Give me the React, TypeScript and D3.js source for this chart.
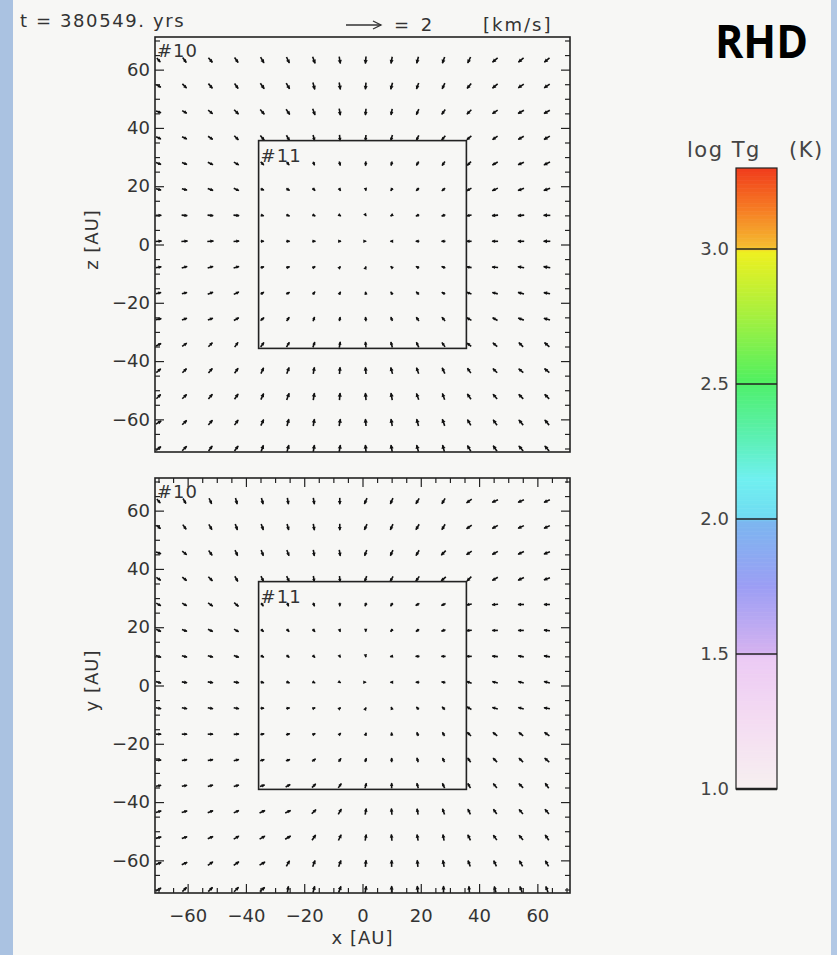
import { useEffect, useRef } from 'react';
import * as d3 from 'd3';

const W = 837;
const H = 955;
const FONT = 'DejaVu Sans';

// grid positions of the velocity vectors [AU] (same for both axes)
const gridCoords = [-70.0, -61.1, -52.2, -43.3, -34.4, -25.6, -16.7, -7.8, 1.1, 10.0, 18.9, 27.8, 36.6, 45.5, 54.4, 63.3];
const majorTicks = [-60, -40, -20, 0, 20, 40, 60];
const minorTicks = [-70, -65, -55, -50, -45, -35, -30, -25, -15, -10, -5, 5, 10, 15, 25, 30, 35, 45, 50, 55, 65, 70];
const axisExtent = 71.2;
const innerBox = 35.65;
const refSpeed = 2; // km/s

// x-z plane: arrow direction in degrees (ccw from +x), rows from top (z=63) to bottom (z=-70)
const xzAngle = [
  [-50, -55, -50, -55, -60, -65, -70, -80, -95, -100, -105, -110, -115, -140, -140, -140],
  [-30, -45, -50, -55, -55, -60, -75, -80, -95, -105, -110, -115, -130, -140, -145, -145],
  [-20, -30, -40, -45, -50, -55, -70, -80, -95, -100, -115, -125, -135, -145, -150, -150],
  [-25, -25, -35, -45, -50, -60, -75, -85, -95, -105, -115, -130, -140, -145, -150, -150],
  [-20, -20, -25, -30, -45, -50, -70, -75, -95, -105, -120, -125, -135, -150, -155, -155],
  [-15, -15, -20, -25, -20, -30, -45, -60, -80, -120, -135, -140, -150, -155, -160, -160],
  [0, -5, -5, -5, -15, -20, -25, -30, -60, -150, -160, -160, -170, -175, -175, 180],
  [5, 5, 5, 5, 0, 0, 0, 0, 0, 180, 180, 180, 180, 180, 180, 180],
  [10, 15, 15, 15, 20, 20, 30, 50, 70, 140, 150, 160, 170, 175, 170, 170],
  [15, 15, 20, 25, 35, 30, 50, 60, 100, 120, 135, 150, 160, 165, 165, 170],
  [10, 20, 20, 30, 40, 55, 70, 80, 95, 110, 125, 130, 150, 150, 160, 165],
  [25, 35, 45, 55, 55, 60, 70, 80, 95, 105, 115, 125, 140, 140, 135, 140],
  [40, 45, 50, 55, 65, 70, 80, 85, 95, 105, 110, 115, 125, 135, 140, 140],
  [45, 45, 50, 55, 65, 70, 80, 85, 95, 100, 110, 110, 125, 130, 135, 135],
  [30, 45, 50, 55, 65, 75, 80, 80, 95, 100, 105, 110, 120, 125, 130, 130],
  [40, 45, 55, 55, 70, 75, 80, 80, 95, 100, 105, 105, 120, 125, 130, 130],
];
// x-z plane: speed [km/s]
const xzSpeed = [
  [0.30, 0.35, 0.35, 0.35, 0.38, 0.38, 0.40, 0.40, 0.40, 0.38, 0.38, 0.38, 0.38, 0.38, 0.38, 0.38],
  [0.30, 0.33, 0.35, 0.35, 0.38, 0.38, 0.40, 0.40, 0.38, 0.38, 0.36, 0.36, 0.36, 0.38, 0.38, 0.38],
  [0.30, 0.30, 0.33, 0.35, 0.36, 0.36, 0.38, 0.38, 0.36, 0.35, 0.34, 0.34, 0.35, 0.36, 0.38, 0.38],
  [0.30, 0.30, 0.32, 0.33, 0.34, 0.34, 0.34, 0.34, 0.33, 0.33, 0.32, 0.32, 0.33, 0.35, 0.36, 0.38],
  [0.30, 0.30, 0.32, 0.32, 0.25, 0.22, 0.22, 0.24, 0.24, 0.24, 0.26, 0.28, 0.30, 0.35, 0.36, 0.38],
  [0.30, 0.30, 0.32, 0.32, 0.20, 0.22, 0.20, 0.18, 0.14, 0.18, 0.22, 0.24, 0.30, 0.35, 0.36, 0.38],
  [0.32, 0.32, 0.32, 0.32, 0.18, 0.20, 0.18, 0.14, 0.08, 0.14, 0.20, 0.22, 0.28, 0.34, 0.36, 0.38],
  [0.35, 0.35, 0.35, 0.32, 0.18, 0.20, 0.18, 0.14, 0.05, 0.14, 0.20, 0.22, 0.28, 0.34, 0.36, 0.38],
  [0.32, 0.32, 0.32, 0.32, 0.20, 0.20, 0.18, 0.12, 0.08, 0.14, 0.20, 0.22, 0.28, 0.34, 0.36, 0.38],
  [0.30, 0.30, 0.32, 0.32, 0.22, 0.22, 0.20, 0.18, 0.16, 0.18, 0.22, 0.22, 0.28, 0.32, 0.35, 0.36],
  [0.32, 0.30, 0.30, 0.32, 0.26, 0.26, 0.25, 0.24, 0.24, 0.24, 0.26, 0.28, 0.30, 0.32, 0.34, 0.36],
  [0.32, 0.32, 0.32, 0.33, 0.32, 0.32, 0.32, 0.33, 0.32, 0.32, 0.32, 0.30, 0.30, 0.32, 0.34, 0.36],
  [0.33, 0.33, 0.34, 0.35, 0.36, 0.38, 0.38, 0.38, 0.38, 0.38, 0.36, 0.36, 0.34, 0.34, 0.34, 0.36],
  [0.34, 0.35, 0.35, 0.36, 0.38, 0.40, 0.40, 0.40, 0.40, 0.40, 0.38, 0.38, 0.36, 0.36, 0.36, 0.36],
  [0.35, 0.36, 0.36, 0.36, 0.38, 0.40, 0.40, 0.40, 0.40, 0.40, 0.40, 0.40, 0.38, 0.38, 0.38, 0.38],
  [0.35, 0.36, 0.36, 0.36, 0.38, 0.40, 0.40, 0.40, 0.40, 0.40, 0.40, 0.40, 0.38, 0.38, 0.38, 0.38],
];

// x-y plane: direction in degrees, rows from top (y=63) to bottom (y=-70)
const xyAngle = [
  [-50, -60, -65, -75, -75, -80, -80, -90, -115, -115, -120, -120, -145, -155, -155, -155],
  [-40, -55, -60, -70, -70, -75, -80, -90, -115, -115, -120, -120, -145, -150, -155, -155],
  [-20, -40, -55, -65, -70, -70, -80, -80, -110, -115, -120, -135, -145, -150, -155, -160],
  [-35, -40, -45, -60, -65, -65, -80, -85, -110, -120, -125, -140, -135, -150, -155, -160],
  [-30, -30, -35, -40, -60, -70, -70, -90, -110, -120, -150, -155, -170, -175, 180, 180],
  [-25, -20, -25, -30, -40, -45, -50, -70, -90, -130, -145, -160, -175, 180, 180, 175],
  [-20, -15, -15, -20, -30, -40, -45, -60, -80, -170, 180, 180, 180, 175, 170, 170],
  [-15, -10, -10, -10, -15, -20, -25, -30, 0, 180, 180, 170, 160, 165, 165, 165],
  [-10, -10, -10, -10, 0, 10, 20, 40, 60, 110, 130, 135, 150, 165, 165, 170],
  [0, 0, 0, 5, 10, 15, 25, 45, 70, 95, 110, 120, 135, 140, 140, 145],
  [0, 10, 10, 15, 15, 15, 35, 55, 70, 90, 105, 115, 125, 135, 135, 140],
  [10, 10, 15, 15, 20, 30, 45, 55, 75, 90, 105, 115, 120, 130, 135, 125],
  [15, 15, 20, 25, 25, 25, 45, 60, 80, 95, 100, 110, 115, 125, 130, 130],
  [15, 20, 25, 30, 30, 30, 55, 65, 80, 95, 100, 100, 115, 125, 130, 125],
  [20, 25, 35, 35, 30, 60, 70, 70, 85, 90, 95, 100, 110, 115, 120, 120],
  [30, 45, 45, 45, 40, 80, 75, 70, 80, 90, 95, 90, 95, 105, 110, 110],
];
const xySpeed = [
  [0.30, 0.33, 0.35, 0.36, 0.36, 0.36, 0.36, 0.36, 0.36, 0.36, 0.36, 0.36, 0.36, 0.36, 0.36, 0.36],
  [0.30, 0.33, 0.35, 0.36, 0.36, 0.36, 0.36, 0.36, 0.36, 0.36, 0.36, 0.36, 0.36, 0.36, 0.36, 0.36],
  [0.30, 0.33, 0.34, 0.35, 0.35, 0.35, 0.35, 0.35, 0.35, 0.35, 0.35, 0.36, 0.36, 0.36, 0.36, 0.36],
  [0.30, 0.32, 0.33, 0.34, 0.34, 0.34, 0.33, 0.33, 0.33, 0.33, 0.34, 0.35, 0.35, 0.36, 0.36, 0.36],
  [0.30, 0.30, 0.32, 0.32, 0.22, 0.22, 0.22, 0.20, 0.20, 0.22, 0.24, 0.26, 0.30, 0.34, 0.34, 0.34],
  [0.30, 0.30, 0.30, 0.30, 0.20, 0.20, 0.20, 0.16, 0.14, 0.18, 0.22, 0.24, 0.30, 0.32, 0.32, 0.34],
  [0.30, 0.30, 0.30, 0.30, 0.20, 0.20, 0.18, 0.14, 0.08, 0.16, 0.22, 0.24, 0.30, 0.32, 0.32, 0.34],
  [0.30, 0.30, 0.30, 0.30, 0.20, 0.20, 0.16, 0.12, 0.04, 0.14, 0.20, 0.22, 0.30, 0.32, 0.32, 0.34],
  [0.30, 0.30, 0.30, 0.30, 0.20, 0.20, 0.16, 0.12, 0.08, 0.14, 0.20, 0.22, 0.30, 0.32, 0.32, 0.34],
  [0.30, 0.30, 0.30, 0.30, 0.22, 0.22, 0.18, 0.16, 0.16, 0.18, 0.22, 0.24, 0.30, 0.32, 0.32, 0.34],
  [0.30, 0.30, 0.30, 0.30, 0.24, 0.24, 0.24, 0.24, 0.22, 0.24, 0.26, 0.26, 0.30, 0.32, 0.33, 0.34],
  [0.30, 0.30, 0.30, 0.30, 0.28, 0.30, 0.30, 0.30, 0.30, 0.30, 0.30, 0.30, 0.30, 0.32, 0.34, 0.35],
  [0.32, 0.32, 0.32, 0.32, 0.34, 0.34, 0.34, 0.35, 0.35, 0.35, 0.34, 0.34, 0.33, 0.33, 0.34, 0.35],
  [0.32, 0.32, 0.33, 0.34, 0.35, 0.36, 0.36, 0.36, 0.36, 0.36, 0.36, 0.36, 0.35, 0.35, 0.35, 0.36],
  [0.33, 0.34, 0.35, 0.36, 0.36, 0.36, 0.38, 0.38, 0.38, 0.38, 0.38, 0.38, 0.36, 0.36, 0.36, 0.36],
  [0.33, 0.34, 0.35, 0.36, 0.36, 0.36, 0.38, 0.38, 0.38, 0.38, 0.38, 0.38, 0.36, 0.36, 0.36, 0.36],
];

// colour bar: log Tg (K)
const cbarTicks = [1.0, 1.5, 2.0, 2.5, 3.0];
const cbarRange = [1.0, 3.3];
const cbarStops = [1.0, 1.25, 1.49, 1.51, 1.75, 1.99, 2.01, 2.15, 2.3, 2.49, 2.51, 2.75, 2.99, 3.01, 3.15, 3.3];
const cbarColors = ['#f7f0f0', '#f4dcf2', '#eccaf4', '#d4b2f0', '#9c9ef4', '#7cb6f0', '#70dcf2', '#70f0f0',
  '#5cf0b4', '#50f070', '#50f060', '#a4f040', '#eef020', '#f4bc30', '#f67c24', '#f03c1c'];

const pxPerKms = 17.5;
const fmt = (d: number) => (d < 0 ? '\u2212' + Math.abs(d) : String(d));

const App = () => {
  const svgRef = useRef<SVGSVGElement>(null);

  useEffect(() => {
    const svg = d3.select(svgRef.current);
    svg.selectAll('*').remove();

    // page background + blue side bands
    svg.append('rect').attr('width', W).attr('height', H).attr('fill', '#f7f7f5');
    svg.append('rect').attr('x', 0).attr('width', 13).attr('height', H).attr('fill', '#aac2e1');
    svg.append('rect').attr('x', 831).attr('width', 6).attr('height', H).attr('fill', '#b2c8e5');

    const left = 155;
    const right = 570;
    const x = d3.scaleLinear().domain([-axisExtent, axisExtent]).range([left, right]);

    const styleAxis = (g: any) => {
      g.select('.domain').remove();
      g.selectAll('line').attr('stroke', '#222').attr('stroke-width', 1.2);
      g.selectAll('text').attr('font-family', FONT).attr('font-size', 18).attr('fill', '#333');
    };

    const drawPanel = (top: number, bottom: number, angles: number[][], speeds: number[][], yLabel: string, isBottom: boolean) => {
      const y = d3.scaleLinear().domain([-axisExtent, axisExtent]).range([bottom, top]);
      const g = svg.append('g');

      // vectors
      const vecs: { cx: number; cy: number; a: number; s: number }[] = [];
      angles.forEach((row, i) =>
        row.forEach((a, j) => vecs.push({ cx: x(gridCoords[j]), cy: y(gridCoords[15 - i]), a, s: speeds[i][j] }))
      );
      const arrows = g.append('g');
      vecs.forEach(v => {
        const len = v.s * pxPerKms;
        const r = (v.a * Math.PI) / 180;
        const dx = len * Math.cos(r);
        const dy = -len * Math.sin(r);
        const x0 = v.cx - dx / 2;
        const y0 = v.cy - dy / 2;
        const x1 = v.cx + dx / 2;
        const y1 = v.cy + dy / 2;
        arrows.append('line').attr('x1', x0).attr('y1', y0).attr('x2', x1).attr('y2', y1)
          .attr('stroke', '#111').attr('stroke-width', 1.6);
        const h = Math.max(2.8, len * 0.5);
        const ux = dx / (len || 1);
        const uy = dy / (len || 1);
        const bx = x1 - ux * h;
        const by = y1 - uy * h;
        const w = h * 0.6;
        arrows.append('path')
          .attr('d', `M${x1 + ux * 0.6},${y1 + uy * 0.6}L${bx - uy * w},${by + ux * w}L${bx + uy * w},${by - ux * w}Z`)
          .attr('fill', '#111');
      });

      // inner box (#11)
      g.append('rect')
        .attr('x', x(-innerBox)).attr('y', y(innerBox))
        .attr('width', x(innerBox) - x(-innerBox)).attr('height', y(-innerBox) - y(innerBox))
        .attr('fill', 'none').attr('stroke', '#222').attr('stroke-width', 1.6);

      // frame
      g.append('rect').attr('x', left).attr('y', top).attr('width', right - left).attr('height', bottom - top)
        .attr('fill', 'none').attr('stroke', '#222').attr('stroke-width', 1.6);

      // y axes (left labelled, right ticks only)
      g.append('g').attr('transform', `translate(${left},0)`)
        .call(d3.axisLeft(y).tickValues(majorTicks).tickSize(-9).tickPadding(5).tickFormat(fmt as any))
        .call(styleAxis);
      g.append('g').attr('transform', `translate(${left},0)`)
        .call(d3.axisLeft(y).tickValues(minorTicks).tickSize(-5).tickFormat(() => ''))
        .call(styleAxis);
      g.append('g').attr('transform', `translate(${right},0)`)
        .call(d3.axisRight(y).tickValues(majorTicks).tickSize(-9).tickFormat(() => ''))
        .call(styleAxis);
      g.append('g').attr('transform', `translate(${right},0)`)
        .call(d3.axisRight(y).tickValues(minorTicks).tickSize(-5).tickFormat(() => ''))
        .call(styleAxis);

      if (isBottom) {
        g.append('g').attr('transform', `translate(0,${bottom})`)
          .call(d3.axisBottom(x).tickValues(majorTicks).tickSize(-9).tickPadding(16).tickFormat(fmt as any))
          .call(styleAxis);
        g.append('g').attr('transform', `translate(0,${bottom})`)
          .call(d3.axisBottom(x).tickValues(minorTicks).tickSize(-5).tickFormat(() => ''))
          .call(styleAxis);
        g.append('g').attr('transform', `translate(0,${top})`)
          .call(d3.axisTop(x).tickValues(majorTicks).tickSize(-9).tickFormat(() => ''))
          .call(styleAxis);
        g.append('g').attr('transform', `translate(0,${top})`)
          .call(d3.axisTop(x).tickValues(minorTicks).tickSize(-5).tickFormat(() => ''))
          .call(styleAxis);
      }

      // labels
      const txt = (s: string, tx: number, ty: number) =>
        g.append('text').attr('x', tx).attr('y', ty).text(s)
          .attr('font-family', FONT).attr('font-size', 18).attr('fill', '#333').attr('letter-spacing', 1);
      txt('#10', left + 2, top + 20);
      txt('#11', x(-innerBox) + 2, y(innerBox) + 21);
      g.append('text')
        .attr('transform', `translate(98,${(top + bottom) / 2 - 5}) rotate(-90)`)
        .attr('text-anchor', 'middle')
        .attr('font-family', FONT).attr('font-size', 18).attr('fill', '#333').attr('letter-spacing', 1)
        .text(yLabel);
    };

    drawPanel(37, 452, xzAngle, xzSpeed, 'z [AU]', false);
    drawPanel(478, 893, xyAngle, xySpeed, 'y [AU]', true);

    svg.append('text').attr('x', x(0)).attr('y', 944).attr('text-anchor', 'middle')
      .attr('font-family', FONT).attr('font-size', 18).attr('fill', '#333').attr('letter-spacing', 1).text('x [AU]');

    // header
    const head = svg.append('g').attr('font-family', FONT).attr('font-size', 18).attr('fill', '#333');
    head.append('text').attr('x', 20).attr('y', 27).attr('letter-spacing', 1.6).text('t = 380549. yrs');
    const ax0 = 346;
    const ax1 = ax0 + refSpeed * pxPerKms;
    head.append('line').attr('x1', ax0).attr('y1', 25).attr('x2', ax1).attr('y2', 25)
      .attr('stroke', '#333').attr('stroke-width', 1.3);
    head.append('path').attr('d', `M${ax1 - 8},${21}L${ax1},${25}L${ax1 - 8},${29}`)
      .attr('fill', 'none').attr('stroke', '#333').attr('stroke-width', 1.3);
    head.append('text').attr('x', 394).attr('y', 31).attr('letter-spacing', 3).text('= 2');
    head.append('text').attr('x', 483).attr('y', 31).attr('letter-spacing', 2).text('[km/s]');

    // title
    svg.append('text').attr('x', 715).attr('y', 58).text('RHD')
      .attr('font-family', 'Open Sans').attr('font-weight', 700).attr('font-size', 46)
      .attr('textLength', 93).attr('lengthAdjust', 'spacingAndGlyphs').attr('fill', '#000');

    // colour bar
    const cb = d3.scaleLinear().domain(cbarRange).range([789, 168]);
    const cmap = d3.scaleLinear<string>().domain(cbarStops).range(cbarColors).interpolate(d3.interpolateRgb);
    const cbx = 736;
    const cbw = 41;
    const step = 0.005;
    const bar = svg.append('g');
    bar.selectAll('rect.c')
      .data(d3.range(cbarRange[0], cbarRange[1], step))
      .join('rect')
      .attr('x', cbx).attr('width', cbw)
      .attr('y', d => cb(Math.min(d + step, cbarRange[1])))
      .attr('height', d => cb(d) - cb(Math.min(d + step, cbarRange[1])) + 0.6)
      .attr('fill', d => cmap(d + step / 2));
    bar.append('rect').attr('x', cbx).attr('y', cb(cbarRange[1])).attr('width', cbw)
      .attr('height', cb(cbarRange[0]) - cb(cbarRange[1]))
      .attr('fill', 'none').attr('stroke', '#222').attr('stroke-width', 1.2);
    bar.selectAll('line.t').data(cbarTicks).join('line')
      .attr('x1', cbx).attr('x2', cbx + cbw)
      .attr('y1', d => cb(d)).attr('y2', d => cb(d))
      .attr('stroke', '#222').attr('stroke-width', d => (d === cbarRange[0] ? 2.4 : 1.3));
    bar.selectAll('text.t').data(cbarTicks).join('text')
      .attr('x', cbx - 7).attr('y', d => cb(d)).attr('dy', '0.35em')
      .attr('text-anchor', 'end')
      .attr('font-family', FONT).attr('font-size', 18).attr('fill', '#444')
      .text(d => d.toFixed(1));
    const lab = svg.append('g').attr('font-family', FONT).attr('font-size', 21).attr('fill', '#444');
    lab.append('text').attr('x', 687).attr('y', 157).attr('letter-spacing', 1.5).text('log Tg');
    lab.append('text').attr('x', 789).attr('y', 157).attr('letter-spacing', 1.5).text('(K)');
  }, []);

  return (
    <svg ref={svgRef} width={W} height={H} style={{ position: 'absolute', left: 0, top: 0, display: 'block' }} />
  );
};

export default App;
